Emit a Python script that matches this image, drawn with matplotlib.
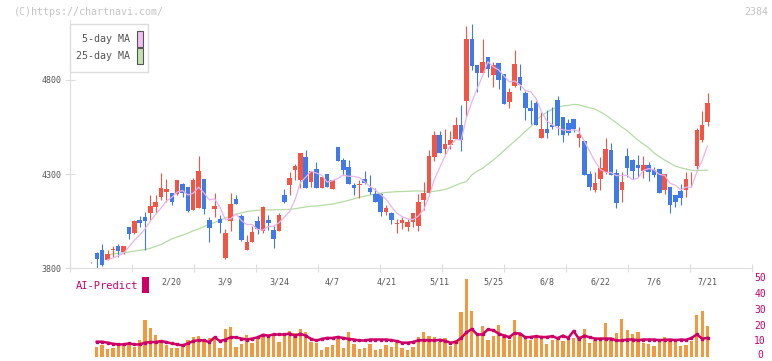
import numpy as np
import matplotlib
matplotlib.use('Agg')
import matplotlib.pyplot as plt
from matplotlib.patches import Rectangle

nan = np.nan

# OHLC (yen)
opens = [3830, 3881, 3896, 3843, 3896, 3917, 3885, 4016, 3988, 4055,
         4071, 4094, 4126, 4179, 4203, 4197, 4192, 4245, 4231, 4108,
         4118, 4273, 4055, 4114, 4061, 3855, 4052, 4167, 4077, 3896,
         3940, 4050, 3998, 4055, 4002, 3998, 4188, 4242, 4321, 4268,
         4392, 4257, 4327, 4227, 4302, 4222, 4445, 4374, 4337, 4241,
         4241, 4273, 4227, 4194, 4192, 4099, 4094, 4034, 4041, 4016,
         4043, 4025, 4162, 4200, 4392, 4507, 4433, 4454, 4486, 4561,
         4690, 5018, 4880, 4839, 4922, 4826, 4890, 4832, 4685, 4768,
         4818, 4731, 4653, 4678, 4493, 4541, 4561, 4694, 4603, 4571,
         4593, 4493, 4476, 4300, 4215, 4272, 4311, 4428, 4307, 4215,
         4396, 4374, 4348, 4318, 4348, 4321, 4327, 4215, 4232, 4188,
         4210, 4215, 4298, 4343, 4481, 4578]
highs = [3832, 3887, 3928, 3896, 3917, 3926, 3917, 4016, 4055, 4077,
         4099, 4188, 4188, 4304, 4272, 4197, 4268, 4250, 4231, 4277,
         4396, 4273, 4070, 4200, 4082, 4006, 4197, 4188, 4087, 3976,
         4023, 4077, 4131, 4080, 4023, 4094, 4219, 4312, 4353, 4413,
         4428, 4316, 4365, 4282, 4302, 4268, 4445, 4387, 4374, 4254,
         4268, 4318, 4295, 4224, 4197, 4135, 4099, 4061, 4070, 4059,
         4094, 4194, 4257, 4428, 4529, 4529, 4539, 4529, 4603, 4667,
         5089, 5098, 4880, 5018, 4922, 4897, 4890, 4832, 4759, 4960,
         4887, 4743, 4694, 4688, 4630, 4640, 4656, 4715, 4603, 4593,
         4593, 4550, 4476, 4318, 4311, 4389, 4490, 4467, 4327, 4311,
         4438, 4381, 4401, 4396, 4364, 4339, 4327, 4300, 4232, 4188,
         4247, 4311, 4311, 4543, 4635, 4731]
lows = [3828, 3798, 3811, 3840, 3860, 3857, 3875, 3956, 3981, 4020,
        3896, 4055, 4091, 4162, 4153, 4135, 4188, 4176, 4099, 4108,
        4118, 4087, 3940, 4073, 3988, 3846, 3999, 4140, 3945, 3896,
        3940, 3981, 3985, 4002, 3908, 3998, 4144, 4188, 4268, 4224,
        4227, 4233, 4227, 4227, 4233, 4222, 4371, 4295, 4247, 4188,
        4171, 4245, 4192, 4153, 4077, 4082, 4032, 3985, 4006, 3997,
        4020, 3998, 4108, 4200, 4371, 4413, 4399, 4433, 4486, 4424,
        4610, 4853, 4738, 4839, 4818, 4764, 4752, 4672, 4651, 4764,
        4747, 4587, 4566, 4561, 4493, 4493, 4541, 4507, 4472, 4507,
        4525, 4445, 4295, 4215, 4204, 4215, 4300, 4295, 4121, 4153,
        4286, 4273, 4286, 4280, 4263, 4286, 4200, 4192, 4094, 4126,
        4135, 4179, 4229, 4325, 4469, 4557]
closes = [3830, 3849, 3816, 3874, 3896, 3890, 3917, 3981, 4050, 4039,
          4052, 4130, 4153, 4224, 4220, 4153, 4268, 4197, 4103, 4268,
          4316, 4114, 4011, 4131, 4041, 3986, 4140, 4142, 3949, 3938,
          3991, 4006, 4123, 4041, 3953, 4082, 4153, 4277, 4344, 4413,
          4227, 4316, 4227, 4282, 4233, 4268, 4371, 4321, 4247, 4227,
          4241, 4252, 4203, 4153, 4099, 4121, 4055, 4034, 4055, 4045,
          4094, 4153, 4200, 4396, 4507, 4413, 4460, 4481, 4561, 4481,
          5018, 4876, 4836, 4896, 4860, 4880, 4800, 4672, 4738, 4887,
          4773, 4651, 4635, 4561, 4541, 4520, 4552, 4555, 4507, 4520,
          4541, 4513, 4295, 4232, 4252, 4330, 4433, 4295, 4147, 4257,
          4334, 4318, 4334, 4348, 4312, 4296, 4200, 4300, 4135, 4153,
          4174, 4273, 4298, 4534, 4561, 4678]

ma5 = [nan, nan, nan, 3843, 3853, 3865, 3879, 3912, 3947, 3975,
       4008, 4050, 4085, 4120, 4156, 4176, 4204, 4212, 4188, 4198,
       4230, 4200, 4162, 4168, 4123, 4057, 4062, 4088, 4052, 4031,
       4032, 4005, 4001, 4020, 4023, 4041, 4070, 4101, 4162, 4254,
       4283, 4315, 4305, 4293, 4257, 4265, 4276, 4295, 4288, 4287,
       4281, 4258, 4234, 4215, 4190, 4166, 4126, 4092, 4073, 4062,
       4057, 4076, 4109, 4178, 4270, 4334, 4395, 4451, 4484, 4479,
       4600, 4683, 4754, 4821, 4897, 4870, 4854, 4822, 4790, 4795,
       4774, 4744, 4737, 4701, 4632, 4582, 4562, 4546, 4535, 4531,
       4535, 4527, 4475, 4420, 4367, 4324, 4308, 4308, 4291, 4292,
       4293, 4270, 4278, 4318, 4329, 4322, 4298, 4293, 4251, 4240,
       4216, 4230, 4230, 4310, 4373, 4450]
ma25 = [nan, nan, nan, 3870, 3874, 3878, 3882, 3886, 3890, 3894,
        3898, 3905, 3915, 3925, 3940, 3955, 3965, 3975, 3985, 3998,
        4008, 4020, 4032, 4042, 4055, 4066, 4075, 4086, 4094, 4100,
        4104, 4107, 4109, 4109, 4110, 4110, 4111, 4112, 4115, 4120,
        4125, 4128, 4130, 4133, 4137, 4140, 4147, 4153, 4160, 4168,
        4176, 4182, 4188, 4193, 4198, 4202, 4204, 4206, 4207, 4208,
        4209, 4210, 4209, 4207, 4208, 4212, 4218, 4228, 4240, 4252,
        4260, 4295, 4315, 4330, 4352, 4374, 4398, 4425, 4450, 4475,
        4500, 4528, 4552, 4586, 4610, 4628, 4644, 4655, 4662, 4665,
        4670, 4668, 4660, 4652, 4645, 4630, 4614, 4592, 4572, 4550,
        4530, 4505, 4480, 4460, 4440, 4412, 4392, 4374, 4358, 4342,
        4333, 4326, 4320, 4318, 4319, 4321]

# AI-Predict panel
volume = [nan, 6.5, 7.8, 4.8, 5.5, 7.4, 7.4, 7.4, 6.5, 10.5,
          23.7, 18.7, 14.0, 10.9, 7.4, 5.5, 5.5, 6.9, 10.5, 13.0,
          13.6, 10.3, 11.8, 11.2, 5.5, 18.0, 19.3, 6.5, 8.0, 14.0,
          9.2, 11.8, 14.5, 13.6, 14.9, 9.8, 13.2, 16.8, 15.5, 18.0,
          16.2, 9.6, 9.2, 4.4, 6.5, 7.4, 11.2, 6.0, 16.2, 8.0,
          5.1, 5.5, 8.0, 4.2, 5.1, 7.4, 6.5, 9.4, 5.5, 4.4,
          6.1, 13.0, 16.2, 13.6, 12.4, 9.4, 11.8, 6.7, 11.1, 28.7,
          49.5, 29.4, 14.9, 19.9, 11.1, 13.6, 20.6, 14.3, 11.1, 23.7,
          14.9, 12.4, 10.5, 13.6, 11.8, 8.0, 10.5, 13.0, 9.9, 11.1,
          11.8, 13.6, 18.0, 8.6, 11.1, 11.1, 21.8, 11.1, 15.5, 24.3,
          17.4, 14.3, 16.2, 8.6, 8.0, 6.7, 11.1, 13.0, 10.5, 9.9,
          6.7, 7.4, 9.9, 26.8, 29.4, 19.9]
ai_line = [nan, 9.7, 9.7, 9.1, 8.4, 8.0, 8.0, 8.6, 8.0, 8.0,
           9.1, 9.5, 9.5, 10.1, 9.5, 8.6, 8.0, 7.4, 8.6, 10.1,
           10.7, 10.5, 9.5, 12.5, 10.1, 11.1, 12.5, 12.5, 11.7, 11.1,
           11.7, 12.5, 14.1, 13.6, 14.3, 14.3, 14.3, 14.9, 13.6, 14.7,
           13.6, 11.5, 10.5, 11.5, 12.1, 12.1, 12.7, 12.1, 11.5, 11.1,
           10.5, 10.5, 11.1, 11.1, 11.1, 11.1, 10.7, 10.1, 9.1, 9.1,
           9.5, 10.5, 10.7, 10.7, 10.5, 10.9, 10.3, 9.1, 9.5, 12.1,
           15.6, 17.8, 14.3, 14.3, 17.5, 17.0, 14.9, 13.6, 12.7, 15.2,
           14.9, 12.5, 12.7, 13.2, 12.7, 12.7, 13.2, 11.9, 13.6, 12.1,
           16.5, 11.5, 13.6, 12.5, 11.7, 11.7, 11.7, 11.7, 10.5, 10.5,
           11.1, 11.1, 10.7, 11.1, 11.1, 11.1, 10.7, 10.9, 11.1, 10.7,
           11.1, 10.9, 12.1, 14.3, 11.7, 12.1]

date_labels = ['2/20', '3/9', '3/24', '4/7', '4/21', '5/11',
               '5/25', '6/8', '6/22', '7/6', '7/21']
date_index = [15, 25, 35, 45, 55, 65, 75, 85, 95, 105, 115]
right_ticks = [0, 10, 20, 30, 40, 50]

W, H = 772, 361
RED = '#f25544'
BLUE = '#3f7ae8'
CRIMSON = '#cc0066'
GRID = '#dddddd'
MONO = 'DejaVu Sans Mono'

plt.rcParams['font.family'] = MONO


def fx(x):
    return x / W


def fy(y):
    return 1 - y / H


fig = plt.figure(figsize=(W / 100, H / 100), dpi=100)
ax = fig.add_axes([fx(70), fy(268), (752 - 70) / W, (268 - 20) / H])
# lower panel: 0 sits at y=357, 50 at y=278.3
low_bot, low_top = 357.0, 270.0
ax2 = fig.add_axes([fx(70), fy(low_bot), (752 - 70) / W, (low_bot - low_top) / H])

x = np.arange(len(closes))
o = np.array(opens, float)
c = np.array(closes, float)
colors = [RED if cc >= oo else BLUE for oo, cc in zip(o, c)]

# candles
ax.vlines(x, lows, highs, colors=colors, linewidth=0.8, zorder=2)
body_lo = np.minimum(o, c)
body_h = np.maximum(np.abs(c - o), 4)
ax.bar(x, body_h, bottom=body_lo, width=0.85, color=colors, linewidth=0, zorder=3)

ax.plot(x, ma5, color='#eab4ee', lw=0.9, zorder=4)
ax.plot(x, ma25, color='#b4dca4', lw=0.9, zorder=1)

xmin, xmax = -4, 123.3
ax.set_xlim(xmin, xmax)
ax.set_ylim(3800, 3800 + 248 * 500 / 94)
ax.set_xticks(np.linspace(xmin, xmax, 12))
ax.set_xticklabels([])
ax.set_yticks([3800, 4300, 4800])
ax.tick_params(axis='both', direction='inout', color=GRID, length=6.5, width=0.8,
               labelsize=6, labelcolor='#555555', pad=3)
ax.tick_params(axis='x', length=6)
for s in ['top', 'right']:
    ax.spines[s].set_visible(False)
for s in ['left', 'bottom']:
    ax.spines[s].set_color(GRID)
    ax.spines[s].set_linewidth(0.8)

# lower panel
ax2.bar(x, volume, width=0.62, color='#f2993f', linewidth=0, zorder=1)
ax2.plot(x, ai_line, color=CRIMSON, lw=1.8, marker='s', ms=2, zorder=2)
ax2.set_xlim(xmin, xmax)
ax2.set_ylim(0, (low_bot - low_top) / 1.574)
ax2.set_xticks([])
ax2.set_yticks([])
for s in ax2.spines.values():
    s.set_visible(False)
ax2.patch.set_alpha(0)

# right-hand scale labels (the bottom "0" nudged up so it stays inside the image)
ytr = ax2.get_yaxis_transform()
xr = (760 - 70) / (752 - 70)
for v in right_ticks:
    ax2.text(xr, v if v > 0 else 1.3, str(v), transform=ytr, ha='center', va='center',
             fontsize=7, color=CRIMSON, clip_on=False)

tr = ax2.get_xaxis_transform()
for i, lab in zip(date_index, date_labels):
    ax2.text(i, (low_bot - 282) / (low_bot - low_top), lab, transform=tr,
             ha='center', va='center', fontsize=6, color='#555555')

# legend box
fig.add_artist(Rectangle((fx(70), fy(71.7)), (148 - 70) / W, (71.7 - 24) / H,
                         transform=fig.transFigure, facecolor='white',
                         edgecolor=GRID, lw=1, zorder=10))
fig.text(fx(130), fy(38.5), '5-day MA', ha='right', va='center', fontsize=7.2,
         color='#555555', zorder=11)
fig.text(fx(130), fy(56), '25-day MA', ha='right', va='center', fontsize=7.2,
         color='#555555', zorder=11)
fig.add_artist(Rectangle((fx(136.5), fy(46.5)), 6 / W, 15.5 / H, transform=fig.transFigure,
                         facecolor='#f0c0f0', edgecolor='#555555', lw=0.8, zorder=11))
fig.add_artist(Rectangle((fx(136.5), fy(63.5)), 6 / W, 15 / H, transform=fig.transFigure,
                         facecolor='#c2e2b2', edgecolor='#555555', lw=0.8, zorder=11))

# header texts
fig.text(fx(14), fy(12), '(C)https://chartnavi.com/', ha='left', va='center',
         fontsize=7.2, color='#c4c4c4')
fig.text(fx(768), fy(12), '2384', ha='right', va='center', fontsize=7.2, color='#c4c4c4')

# AI-Predict label
fig.text(fx(76), fy(286), 'AI-Predict', ha='left', va='center', fontsize=7.5, color=CRIMSON)
fig.add_artist(Rectangle((fx(142), fy(293)), 7 / W, 16 / H, transform=fig.transFigure,
                         facecolor=CRIMSON, edgecolor='none'))

fig.savefig('out.png', dpi=100, facecolor='white')
